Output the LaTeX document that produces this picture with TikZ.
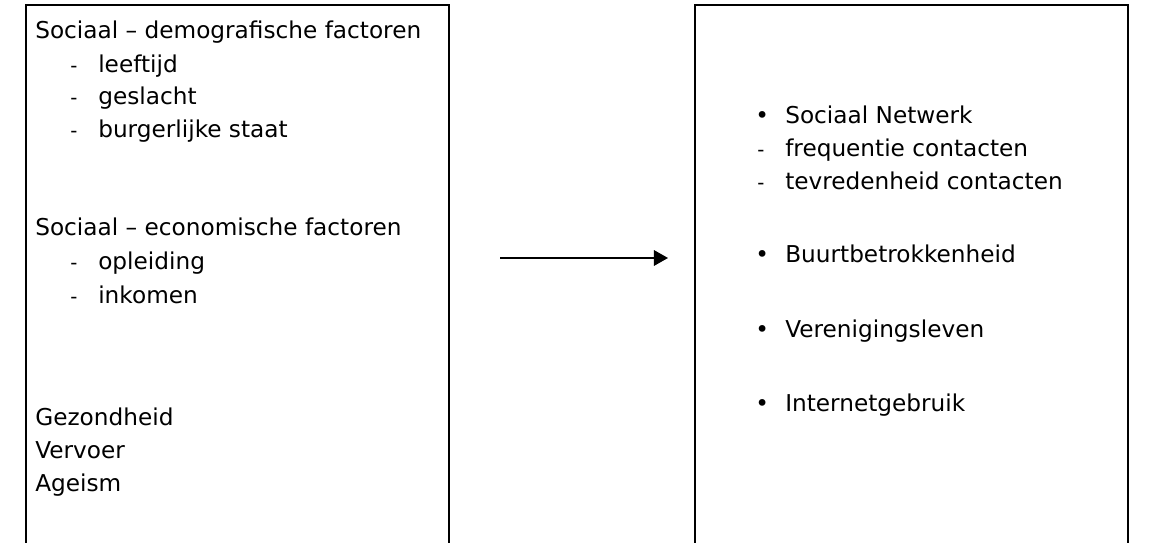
\documentclass[tikz,border=0pt]{standalone}
\usepackage{fontspec}
\setmainfont{DejaVu Sans}
\usetikzlibrary{arrows.meta,positioning}
\tikzset{
  regel/.style={anchor=base west,inner sep=0pt,font=\fontsize{16.5}{18}\selectfont},
  teken/.style={anchor=base west,inner sep=0pt,font=\fontsize{14}{16}\selectfont},
  kader/.style={draw,line width=1.4pt,anchor=north west,inner sep=0pt,minimum height=15cm},
  pijl/.style={line width=1.3pt,-{Triangle[length=10pt,width=11pt]}}
}
\newcommand{\regel}[3]{\node[regel] (#1) at (#2){#3};}

\begin{document}
\begin{tikzpicture}[x=0.025cm,y=-0.025cm]
    \useasboundingbox (0,0) rectangle (1152,543);
    \clip (0,0) rectangle (1152,543);
    \pgfmathsetmacro{\xl}{35};
    \pgfmathsetmacro{\xli}{98};
    \pgfmathsetmacro{\xr}{785};
    \node[kader,minimum width=10.575cm] (links) at (25,4) {};
    \node[kader,minimum width=10.825cm] (rechts) at (694,4) {};
    % links: factoren
      \regel{demo}{\xl,39}{Sociaal -- demografische factoren};
      \regel{leeftijd}{\xli,73}{leeftijd};
      \regel{geslacht}{\xli,105}{geslacht};
      \regel{staat}{\xli,138}{burgerlijke staat};
      \regel{econ}{\xl,236}{Sociaal -- economische factoren};
      \regel{opleiding}{\xli,270}{opleiding};
      \regel{inkomen}{\xli,304}{inkomen};
      \regel{gezond}{\xl,426}{Gezondheid};
      \regel{vervoer}{\xl,459}{Vervoer};
      \regel{ageism}{\xl,492}{Ageism};
      \foreach \y in {73,105,138,270,304}
        \node[teken] at (70,\y) {-};
    % rechts: participatie
      \regel{netwerk}{\xr,124}{Sociaal Netwerk};
      \regel{freq}{\xr,157}{frequentie contacten};
      \regel{tevr}{\xr,190}{tevredenheid contacten};
      \regel{buurt}{\xr,263}{Buurtbetrokkenheid};
      \regel{vereniging}{\xr,338}{Verenigingsleven};
      \regel{internet}{\xr,412}{Internetgebruik};
      \foreach \y in {124,263,338,412}
        \node[regel] at (755,\y) {\textbullet};
      \foreach \y in {157,190}
        \node[teken] at (757,\y) {-};
    \coordinate (van) at (500,258);
    \coordinate (naar) at (668,258);
    \draw[pijl] (van) -- (naar);
\end{tikzpicture}
\end{document}
